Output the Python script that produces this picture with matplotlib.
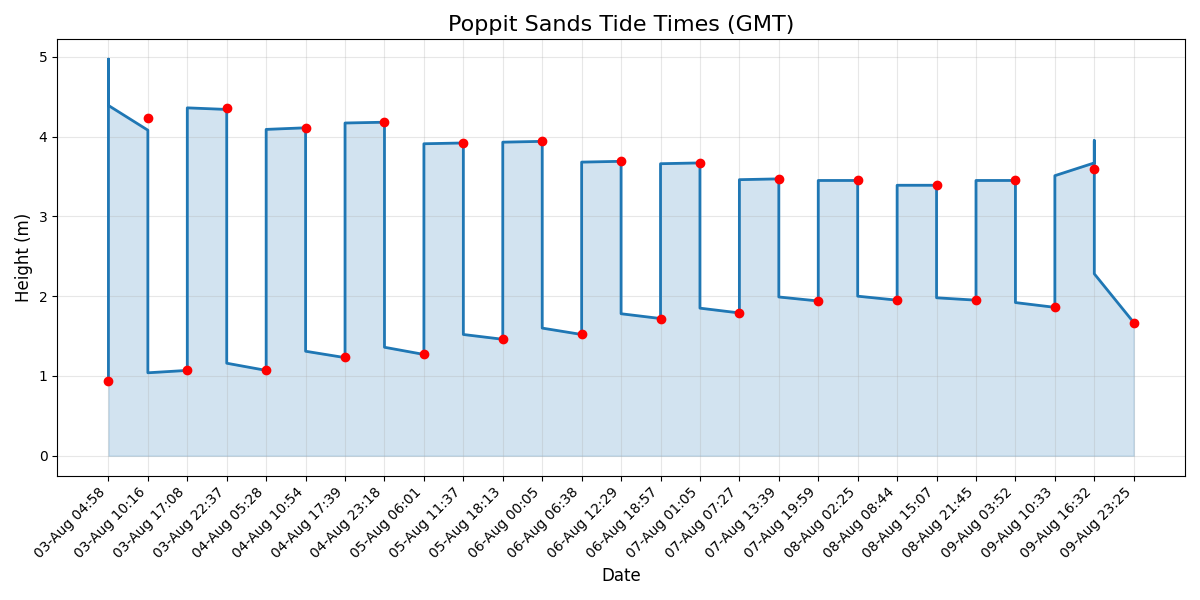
import matplotlib
matplotlib.use('Agg')
import matplotlib.pyplot as plt
import numpy as np

# 潮位時刻（ラベル）
tide_labels = ['03-Aug 04:58', '03-Aug 10:16', '03-Aug 17:08', '03-Aug 22:37',
               '04-Aug 05:28', '04-Aug 10:54', '04-Aug 17:39', '04-Aug 23:18',
               '05-Aug 06:01', '05-Aug 11:37', '05-Aug 18:13', '06-Aug 00:05',
               '06-Aug 06:38', '06-Aug 12:29', '06-Aug 18:57', '07-Aug 01:05',
               '07-Aug 07:27', '07-Aug 13:39', '07-Aug 19:59', '08-Aug 02:25',
               '08-Aug 08:44', '08-Aug 15:07', '08-Aug 21:45', '09-Aug 03:52',
               '09-Aug 10:33', '09-Aug 16:32', '09-Aug 23:25']
tide_heights = [0.94, 4.23, 1.07, 4.36, 1.07, 4.11, 1.24, 4.18, 1.27, 3.92,
                1.46, 3.94, 1.52, 3.69, 1.72, 3.67, 1.79, 3.47, 1.94, 3.45,
                1.95, 3.39, 1.95, 3.45, 1.86, 3.59, 1.67]

# 曲線（ラベル番号と高さ）
curve_idx = [0, 0, 0, 1, 1, 2, 2, 3, 3, 4, 4, 5, 5, 6, 6, 7, 7, 8, 8, 9, 9,
             10, 10, 11, 11, 12, 12, 13, 13, 14, 14, 15, 15, 16, 16, 17, 17,
             18, 18, 19, 19, 20, 20, 21, 21, 22, 22, 23, 23, 24, 24, 25, 25,
             25, 26]
curve_heights = [0.94, 4.97, 4.39, 4.08, 1.04, 1.07, 4.36, 4.34, 1.16, 1.07,
                 4.09, 4.11, 1.31, 1.23, 4.17, 4.18, 1.36, 1.27, 3.91, 3.92,
                 1.52, 1.46, 3.93, 3.94, 1.60, 1.52, 3.68, 3.69, 1.78, 1.72,
                 3.66, 3.67, 1.85, 1.79, 3.46, 3.47, 1.99, 1.94, 3.45, 3.45,
                 2.00, 1.95, 3.39, 3.39, 1.98, 1.95, 3.45, 3.45, 1.92, 1.86,
                 3.51, 3.67, 3.95, 2.28, 1.67]

pos = np.arange(len(tide_labels))

fig, ax = plt.subplots(figsize=(12, 6), dpi=100)
ax.plot(curve_idx, curve_heights, color='#1f77b4', linewidth=2)
ax.fill_between(curve_idx, curve_heights, 0, color='#1f77b4', alpha=0.2)
ax.plot(pos, tide_heights, 'o', color='red', markersize=6, zorder=3)

ax.set_xticks(pos)
ax.set_xticklabels(tide_labels, rotation=45, ha='right')
ax.set_title('Poppit Sands Tide Times (GMT)', fontsize=16)
ax.set_xlabel('Date', fontsize=12)
ax.set_ylabel('Height (m)', fontsize=12)
ax.grid(True, alpha=0.3)

plt.tight_layout()
plt.savefig('out.png')
